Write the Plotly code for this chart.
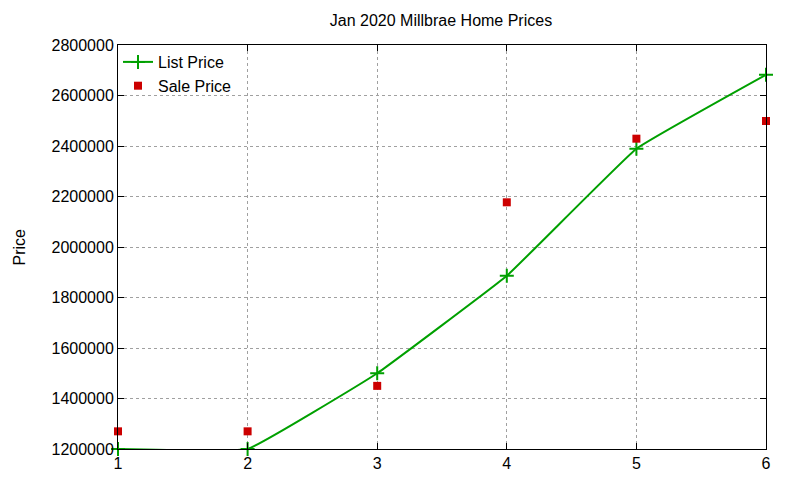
import plotly.graph_objects as go

homes = [1, 2, 3, 4, 5, 6]
list_price = [1200000, 1200000, 1500000, 1886000, 2389000, 2682000]
sale_price = [1270000, 1270000, 1450000, 2177000, 2429000, 2499000]

title_text = "Jan 2020 Millbrae Home Prices"
y_ticks = [1200000, 1400000, 1600000, 1800000, 2000000, 2200000, 2400000, 2600000, 2800000]

font_family = "Liberation Sans, Arial, sans-serif"
green = "#00a000"
red = "#cc0000"
fs = 16

L, R, T, B = 110, 42, 37, 39
plot_w = 800 - L - R

fig = go.Figure()
fig.add_trace(go.Scatter(
    x=homes, y=list_price, name="List Price", mode="lines+markers",
    line=dict(color=green, width=2, shape="spline", smoothing=0.25),
    marker=dict(symbol="cross-thin", size=10, line=dict(color=green, width=2), color=green),
    cliponaxis=False,
))
fig.add_trace(go.Scatter(
    x=homes, y=sale_price, name="Sale Price", mode="markers",
    marker=dict(symbol="square", size=8, color=red),
    cliponaxis=False,
))

axis_common = dict(
    showline=True, linecolor="black", linewidth=1, mirror="ticks",
    ticks="inside", ticklen=6, tickcolor="black",
    showgrid=True, gridcolor="#a0a0a0", griddash="dot", gridwidth=1,
    zeroline=False, tickfont=dict(family=font_family, size=fs, color="black"),
)

fig.update_layout(
    width=800, height=480,
    margin=dict(l=L, r=R, t=T, b=B),
    paper_bgcolor="white", plot_bgcolor="white",
    font=dict(family=font_family, size=fs, color="black"),
    title=dict(text=title_text, x=433 / 800, xanchor="center", y=1 - 12 / 480, yanchor="middle",
               font=dict(size=fs, family=font_family, color="black")),
    xaxis=dict(range=[1, 6], tickvals=homes, **axis_common),
    yaxis=dict(range=[1200000, 2800000], tickvals=y_ticks, tickformat="d", **axis_common),
    showlegend=True,
    legend=dict(x=0.0, y=1.0, xanchor="left", yanchor="top", bgcolor="rgba(0,0,0,0)",
                font=dict(size=fs, family=font_family), tracegroupgap=0, itemwidth=30),
    annotations=[dict(text="Price", xref="paper", yref="paper", x=(0 - L) / plot_w, y=0.5,
                      textangle=-90, showarrow=False, xanchor="left", yanchor="middle",
                      font=dict(size=fs, family=font_family, color="black"))],
)

fig.write_html("out.html")
